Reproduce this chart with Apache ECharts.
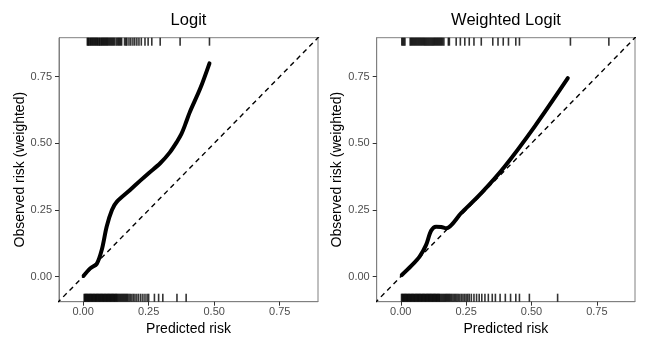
<!DOCTYPE html>
<html>
<head>
<meta charset="utf-8">
<script src="https://cdn.jsdelivr.net/npm/echarts@6/dist/echarts.min.js"></script>
<style>
  html, body { margin: 0; padding: 0; background: #fff; }
  #main { width: 650px; height: 350px; }
</style>
</head>
<body>
<div id="main"></div>
<script>
// calibration curves (predicted risk -> observed risk)
var logitX = [0.002, 0.027, 0.052, 0.071, 0.09, 0.11, 0.129, 0.179, 0.218, 0.25, 0.294, 0.33, 0.358, 0.375, 0.389, 0.408, 0.447, 0.482];
var logitY = [0.003, 0.031, 0.048, 0.10, 0.188, 0.25, 0.281, 0.325, 0.36, 0.388, 0.425, 0.465, 0.506, 0.535, 0.569, 0.619, 0.706, 0.80];

var wLogitX = [0.004, 0.04, 0.072, 0.097, 0.116, 0.135, 0.155, 0.174, 0.231, 0.308, 0.397, 0.512, 0.639];
var wLogitY = [0.006, 0.04, 0.075, 0.119, 0.172, 0.1875, 0.186, 0.181, 0.238, 0.313, 0.412, 0.5625, 0.744];

// rugs: top = events, bottom = non-events
var rugTopL = [0.016, 0.019, 0.022, 0.026, 0.029, 0.033, 0.036, 0.04, 0.043, 0.047, 0.05, 0.054, 0.057, 0.061, 0.064, 0.068,
  0.071, 0.075, 0.078, 0.082, 0.085, 0.089, 0.092, 0.096, 0.1, 0.104, 0.108, 0.112, 0.116, 0.12, 0.126, 0.131, 0.135,
  0.139, 0.143, 0.147, 0.158, 0.163, 0.167, 0.175, 0.182, 0.19, 0.197, 0.205, 0.213, 0.222, 0.236, 0.248, 0.262, 0.294, 0.37, 0.482];
var rugBotL = [0.004, 0.007, 0.01, 0.013, 0.016, 0.019, 0.022, 0.025, 0.028, 0.031, 0.034, 0.037, 0.04, 0.043, 0.046, 0.049,
  0.052, 0.055, 0.058, 0.061, 0.064, 0.067, 0.07, 0.073, 0.076, 0.079, 0.082, 0.085, 0.088, 0.091, 0.094, 0.097, 0.1,
  0.103, 0.106, 0.109, 0.112, 0.115, 0.118, 0.121, 0.124, 0.127, 0.13, 0.134, 0.138, 0.142, 0.146, 0.15, 0.154, 0.158,
  0.162, 0.166, 0.17, 0.175, 0.18, 0.186, 0.192, 0.198, 0.205, 0.212, 0.22, 0.228, 0.236, 0.244, 0.25,
  0.272, 0.288, 0.304, 0.358, 0.393];
var rugTopR = [0.004, 0.008, 0.012, 0.016, 0.036, 0.04, 0.044, 0.048, 0.052, 0.056, 0.06, 0.064, 0.068, 0.072, 0.076, 0.08,
  0.084, 0.088, 0.092, 0.096, 0.1, 0.104, 0.108, 0.112, 0.116, 0.12, 0.124, 0.128, 0.132, 0.136, 0.14, 0.144, 0.148,
  0.152, 0.156, 0.16, 0.165, 0.182, 0.186, 0.212, 0.228, 0.245, 0.262, 0.28, 0.308, 0.352, 0.372, 0.392, 0.412, 0.44, 0.454,
  0.649, 0.796];
var rugBotR = [0.003, 0.006, 0.009, 0.012, 0.015, 0.018, 0.021, 0.024, 0.027, 0.03, 0.033, 0.036, 0.039, 0.042, 0.045, 0.048,
  0.051, 0.054, 0.057, 0.06, 0.063, 0.066, 0.069, 0.072, 0.075, 0.078, 0.081, 0.084, 0.087, 0.09, 0.093, 0.096, 0.099,
  0.102, 0.105, 0.108, 0.111, 0.114, 0.117, 0.12, 0.123, 0.126, 0.129, 0.132, 0.135, 0.138, 0.141, 0.144, 0.147, 0.15,
  0.154, 0.158, 0.162, 0.166, 0.17, 0.174, 0.178, 0.182, 0.186, 0.19, 0.195, 0.2, 0.205, 0.21, 0.215, 0.22, 0.226, 0.232,
  0.238, 0.244, 0.25, 0.256, 0.262, 0.27, 0.28, 0.29, 0.3, 0.31, 0.322, 0.335, 0.35, 0.362, 0.38, 0.4, 0.42, 0.44, 0.454,
  0.492, 0.6];

var tickVals = [0, 0.25, 0.5, 0.75];
var axMin = -0.092, axMax = 0.896;
var ayMin = -0.094, ayMax = 0.896;

var font = "Liberation Sans, Arial, sans-serif";

function pairs(xs, ys){
    var out = [];
    for (var i = 0; i < xs.length; i++) out.push([xs[i], ys[i]]);
    return out;
}

function rugSeries(vals, idx, side){
    return {
        type: 'custom',
        xAxisIndex: idx,
        yAxisIndex: idx,
        silent: true,
        data: vals.map(function(v){ return [v]; }),
        renderItem: function(params, api){
            var x = api.coord([api.value(0), 0])[0];
            var cs = params.coordSys;
            var len = 8;
            var y0 = side == 'top' ? cs.y : cs.y + cs.height - len;
            return {
                type: 'line',
                shape: {x1: x, y1: y0, x2: x, y2: y0 + len},
                style: {stroke: 'rgba(0,0,0,0.8)', lineWidth: 1.6}
            };
        }
    };
}

function xAx(idx){
    return {
        type: 'value', gridIndex: idx, min: axMin, max: axMax,
        name: 'Predicted risk', nameLocation: 'middle', nameGap: 19,
        nameTextStyle: {color: '#000', fontSize: 14, fontFamily: font},
        splitLine: {show: false},
        axisLine: {show: true, onZero: false, lineStyle: {color: '#808080', width: 1}},
        axisTick: {show: true, length: 4, customValues: tickVals, lineStyle: {color: '#333', width: 1}},
        axisLabel: {customValues: tickVals, margin: 5, color: '#4d4d4d', fontSize: 11, fontFamily: font,
            formatter: function(v){ return v.toFixed(2); }}
    };
}

function yAx(idx){
    return {
        type: 'value', gridIndex: idx, min: ayMin, max: ayMax,
        name: 'Observed risk (weighted)', nameLocation: 'middle', nameGap: 32,
        nameTextStyle: {color: '#000', fontSize: 14, fontFamily: font},
        splitLine: {show: false},
        axisLine: {show: true, onZero: false, lineStyle: {color: '#808080', width: 1}},
        axisTick: {show: true, length: 4, customValues: tickVals, lineStyle: {color: '#333', width: 1}},
        axisLabel: {customValues: tickVals, margin: 7, color: '#4d4d4d', fontSize: 11, fontFamily: font,
            formatter: function(v){ return v.toFixed(2); }}
    };
}

function diag(idx){
    return {
        type: 'line', xAxisIndex: idx, yAxisIndex: idx,
        data: [[-0.1, -0.1], [0.9, 0.9]],
        symbol: 'none', clip: true, silent: true,
        lineStyle: {color: '#000', width: 1.4, type: [5, 4]}
    };
}

function curve(xs, ys, idx){
    return {
        type: 'line', xAxisIndex: idx, yAxisIndex: idx,
        data: pairs(xs, ys),
        symbol: 'none', smooth: 0.3, clip: true, silent: true,
        lineStyle: {color: '#000', width: 4, cap: 'round', join: 'round'}
    };
}

var myChart = echarts.init(document.getElementById('main'), null, {renderer: 'canvas'});

var option = {
    animation: false,
    backgroundColor: '#fff',
    title: [
        {text: 'Logit', left: 188.5, top: 12, padding: 0, textAlign: 'center',
            textStyle: {color: '#000', fontSize: 16.5, fontWeight: 'normal', fontFamily: font}},
        {text: 'Weighted Logit', left: 506, top: 12, padding: 0, textAlign: 'center',
            textStyle: {color: '#000', fontSize: 16.5, fontWeight: 'normal', fontFamily: font}}
    ],
    grid: [
        {left: 59, top: 37.7, width: 259, height: 264, show: true, borderColor: '#808080', borderWidth: 1, backgroundColor: '#fff'},
        {left: 376.7, top: 37.7, width: 258.3, height: 264, show: true, borderColor: '#808080', borderWidth: 1, backgroundColor: '#fff'}
    ],
    xAxis: [xAx(0), xAx(1)],
    yAxis: [yAx(0), yAx(1)],
    series: [
        rugSeries(rugTopL, 0, 'top'),
        rugSeries(rugBotL, 0, 'bottom'),
        rugSeries(rugTopR, 1, 'top'),
        rugSeries(rugBotR, 1, 'bottom'),
        diag(0),
        diag(1),
        curve(logitX, logitY, 0),
        curve(wLogitX, wLogitY, 1)
    ]
};

myChart.setOption(option);
</script>
</body>
</html>
